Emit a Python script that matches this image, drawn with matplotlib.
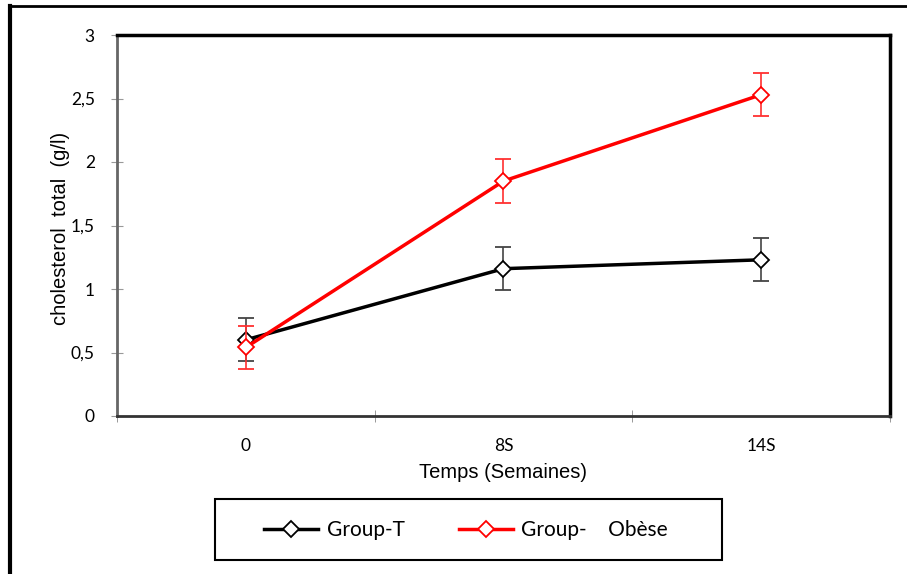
import numpy as np
import matplotlib
matplotlib.use('Agg')
import matplotlib.pyplot as plt
from matplotlib.lines import Line2D
from matplotlib.patches import Rectangle

# data
categories = ['0', '8S', '14S']
group_t = [0.60, 1.16, 1.23]
group_t_err = [0.17, 0.17, 0.17]
group_obese = [0.54, 1.85, 2.53]
group_obese_err = [0.17, 0.17, 0.17]
y_ticks = [0, 0.5, 1, 1.5, 2, 2.5, 3]
y_tick_labels = ['0', '0,5', '1', '1,5', '2', '2,5', '3']

fig = plt.figure(figsize=(9.07, 5.74), dpi=100)
ax = fig.add_axes([117/907, 1-416/574, (890-117)/907, (416-35)/574])

x = np.arange(len(categories))
ax.errorbar(x, group_t, yerr=group_t_err, color='black', lw=2.5, marker='D', ms=8,
            mfc='white', mec='black', mew=1.3, ecolor='#444444', elinewidth=1.2,
            capsize=6, capthick=1.2, zorder=3)
ax.errorbar(x, group_obese, yerr=group_obese_err, color='#ff0000', lw=2.5, marker='D', ms=8,
            mfc='white', mec='#ff0000', mew=1.3, ecolor='#ff3030', elinewidth=1.2,
            capsize=6, capthick=1.2, zorder=4)

ax.set_xlim(-0.5, 2.5)
ax.set_ylim(0, 3)
ax.set_yticks(y_ticks)
ax.set_yticklabels(y_tick_labels, fontsize=12.5, family='Lato')
ax.set_xticks(x)
ax.set_xticklabels(categories, fontsize=12.5, family='Lato')
ax.set_xticks([-0.5, 0.5, 1.5, 2.5], minor=True)
ax.tick_params(axis='x', which='major', length=0, pad=16)
ax.tick_params(axis='x', which='minor', direction='inout', length=8, color='#888888')
ax.tick_params(axis='y', direction='inout', length=8, color='#999999', pad=12)

ax.spines['left'].set_color('#666666')
ax.spines['left'].set_linewidth(2)
ax.spines['bottom'].set_color('#333333')
ax.spines['bottom'].set_linewidth(2)
ax.spines['top'].set_color('black')
ax.spines['top'].set_linewidth(2.5)
ax.spines['right'].set_color('black')
ax.spines['right'].set_linewidth(2.5)

fig.text(503/907, 1-472/574, 'Temps (Semaines)', ha='center', va='center',
         fontsize=14.5, family='Liberation Sans')
fig.text(60/907, 1-228/574, 'cholesterol  total  (g/l)', ha='center', va='center',
         rotation=90, fontsize=14.5, family='Liberation Sans')

# legend box
fig.add_artist(Rectangle((215/907, 1-560/574), (722-215)/907, 61/574,
                         transform=fig.transFigure, fill=False, ec='black', lw=1.5))
handles = [Line2D([], [], color='black', lw=2.5, marker='D', ms=8, mfc='white', mec='black', mew=1.3),
           Line2D([], [], color='#ff0000', lw=2.5, marker='D', ms=8, mfc='white', mec='#ff0000', mew=1.3)]
fig.legend(handles, ['Group-T', 'Group-    Obèse'], ncol=2, loc='center',
           bbox_to_anchor=(466/907, 1-530/574), frameon=False,
           prop={'family': 'Lato', 'size': 15}, handlelength=2.6,
           handletextpad=0.4, columnspacing=2.6)

# outer frame of the chart area
fig.add_artist(Line2D([10/907, 10/907], [0, 1-6/574], transform=fig.transFigure,
                      color='black', lw=3))
fig.add_artist(Line2D([10/907, 1], [1-6/574, 1-6/574], transform=fig.transFigure,
                      color='black', lw=2))

fig.savefig('out.png', dpi=100)
